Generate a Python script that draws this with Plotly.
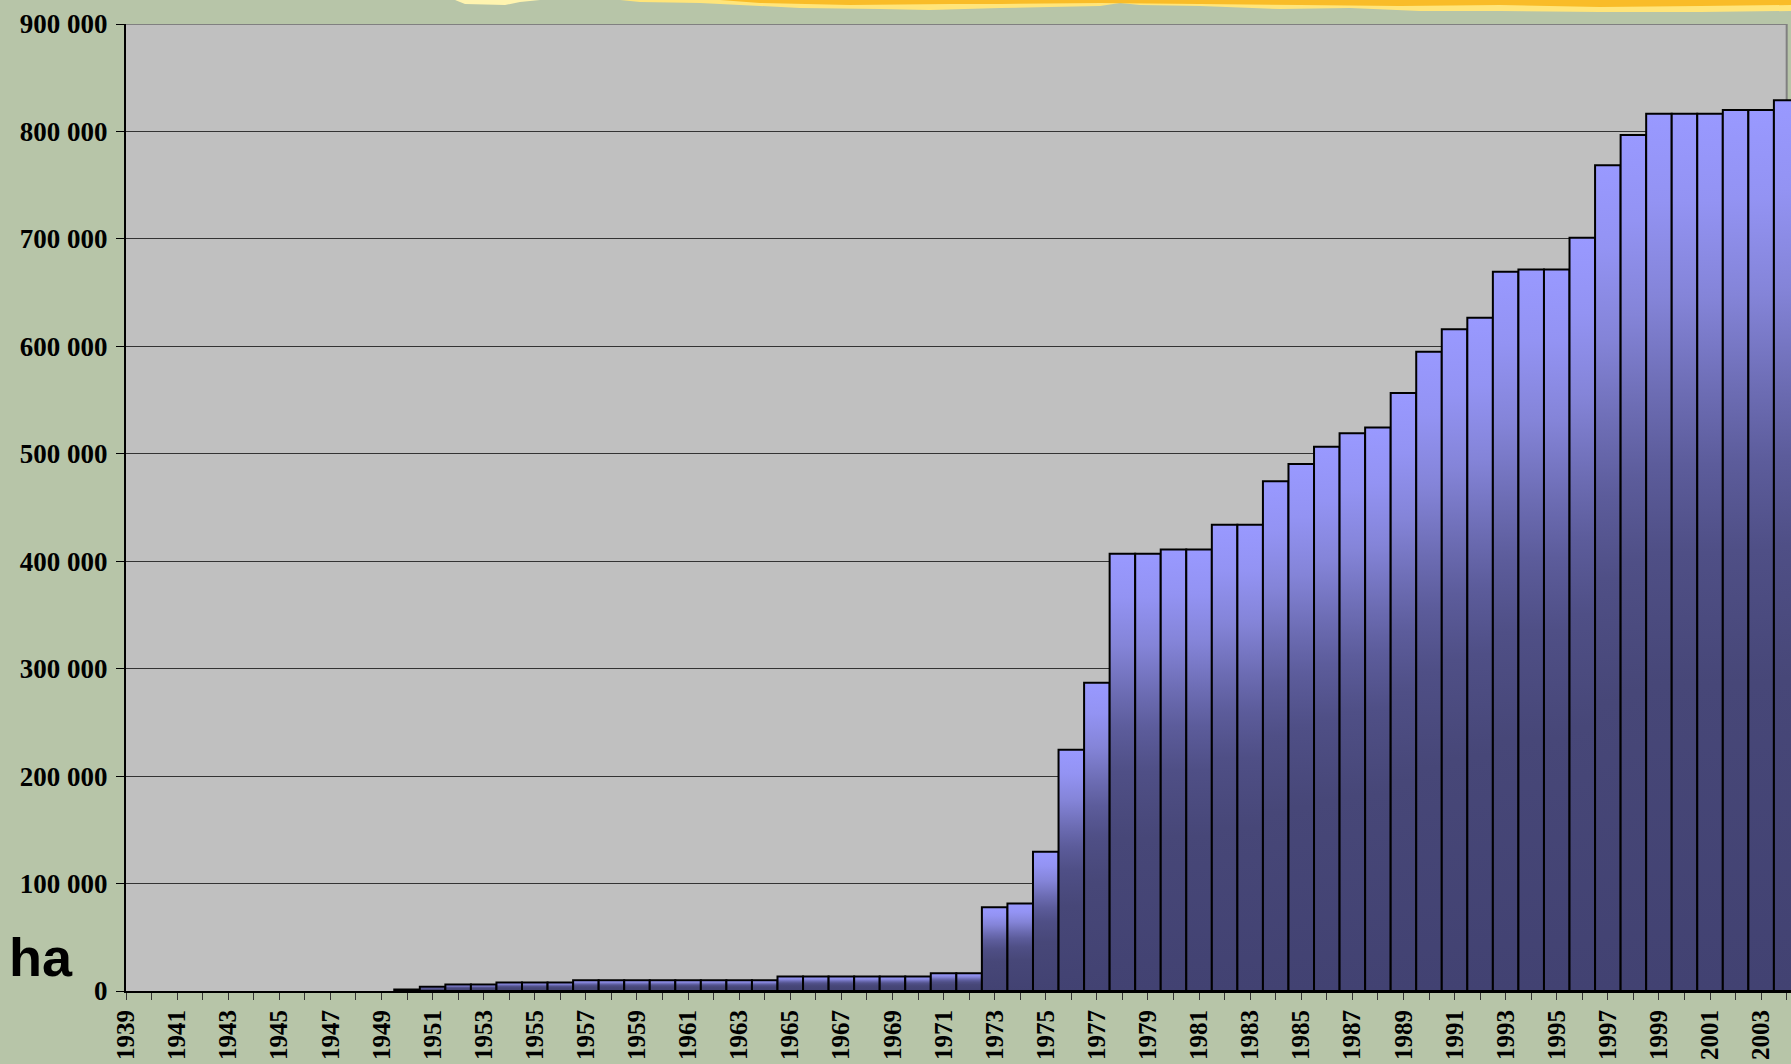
import plotly.graph_objects as go

# ---------------- data ----------------
years = list(range(1939, 2005))
area_ha = [
    0, 0, 0, 0, 0, 0, 0, 0, 0, 0, 0,          # 1939-1949
    1500, 4000, 6000, 6000, 8000, 8000, 8000,  # 1950-1956
    10000, 10000, 10000, 10000, 10000, 10000, 10000, 10000,  # 1957-1964
    13500, 13500, 13500, 13500, 13500, 13500,  # 1965-1970
    16500, 16500,                              # 1971-1972
    78000, 81500, 129500, 224500, 287000,      # 1973-1977
    407000, 407000, 411000, 411000, 434000, 434000,  # 1978-1983
    474500, 490500, 506500, 519000, 524500,    # 1984-1988
    556500, 595000, 616000, 626500, 669500,    # 1989-1993
    671500, 671500, 701000, 768500, 796700,    # 1994-1998
    816500, 816500, 816500, 820000, 820000, 829000,  # 1999-2004
]
y_tick_values = [0, 100000, 200000, 300000, 400000, 500000, 600000, 700000, 800000, 900000]
y_tick_labels = ["0", "100 000", "200 000", "300 000", "400 000", "500 000",
                 "600 000", "700 000", "800 000", "900 000"]
x_tick_years = years[::2]
x_tick_labels = [str(y) for y in x_tick_years]
unit_label = "ha"

# ---------------- style ----------------
W, H = 1791, 1064
ML, MR, MT, MB = 126, 0, 24, 73
PW, PH = W - ML - MR, H - MT - MB
YEAR_PX = 25.549
x_max = years[0] + PW / YEAR_PX

PAPER_BG = "#B7C5A8"
PLOT_BG = "#C0C0C0"
grad = [[0.0, "#424272"], [0.35, "#474778"], [0.5, "#4F4F86"], [0.6, "#5C5C9B"],
        [0.68, "#6C6CB3"], [0.79, "#8484D8"], [0.9, "#9393F3"], [1.0, "#9999FF"]]

fig = go.Figure()

for yr, v in zip(years, area_ha):
    if v <= 0:
        continue
    fig.add_trace(go.Scatter(
        x=[yr - 0.5, yr - 0.5, yr + 0.5, yr + 0.5, yr - 0.5],
        y=[0, v, v, 0, 0],
        mode="lines",
        fill="toself",
        fillgradient=dict(type="vertical", colorscale=grad),
        line=dict(color="black", width=2),
        showlegend=False,
        hoverinfo="skip",
    ))


def px_to_paper(pts):
    return [((px - ML) / PW, (H - MB - py) / PH) for px, py in pts]


def path_of(pts):
    p = px_to_paper(pts)
    s = "M {:.5f},{:.5f} ".format(*p[0])
    s += " ".join("L {:.5f},{:.5f}".format(a, b) for a, b in p[1:])
    return s + " Z"


flame_light = [(620, 0), (640, 2), (700, 3), (760, 6),
               (800, 8), (880, 9), (930, 10), (1000, 8), (1050, 7), (1100, 6), (1120, 3),
               (1140, 5), (1200, 6), (1280, 9), (1350, 8), (1420, 11), (1500, 11),
               (1600, 12), (1700, 12), (1791, 11), (1791, 0)]
flame_bits = [(455, 0), (465, 4), (505, 5), (520, 2), (540, 0)]
flame_dark = [(720, 0), (760, 3), (850, 5), (950, 4), (1000, 4), (1100, 3), (1200, 4),
              (1300, 5), (1400, 6), (1500, 5), (1600, 7), (1700, 6), (1791, 5), (1791, 0)]

shapes = [
    dict(type="path", xref="paper", yref="paper", path=path_of(flame_light),
         fillcolor="#FFE57A", line=dict(width=0), layer="above"),
    dict(type="path", xref="paper", yref="paper", path=path_of(flame_bits),
         fillcolor="#FFF4B0", line=dict(width=0), layer="above"),
    dict(type="path", xref="paper", yref="paper", path=path_of(flame_dark),
         fillcolor="#F9BC28", line=dict(width=0), layer="above"),
    # area right of the chart frame
    dict(type="rect", xref="x", yref="paper", x0=years[-1], x1=x_max + 1, y0=0, y1=1,
         fillcolor=PAPER_BG, line=dict(width=0), layer="below"),
    # top frame
    dict(type="line", xref="x", yref="y", x0=years[0], x1=years[-1], y0=900000, y1=900000,
         line=dict(color="#808080", width=2), layer="below"),
    # right frame
    dict(type="line", xref="x", yref="y", x0=years[-1], x1=years[-1], y0=0, y1=900000,
         line=dict(color="#808080", width=2), layer="below"),
]

fig.update_layout(
    width=W, height=H, autosize=False,
    margin=dict(l=ML, r=MR, t=MT, b=MB, pad=0),
    paper_bgcolor=PAPER_BG,
    plot_bgcolor=PLOT_BG,
    showlegend=False,
    shapes=shapes,
    annotations=[dict(
        text=unit_label, xref="paper", yref="paper",
        x=(41 - ML) / PW, y=(H - MB - 957) / PH, xanchor="center", yanchor="middle",
        showarrow=False,
        font=dict(family="Liberation Sans, Arial", size=54, color="black", weight="bold"),
    )],
    xaxis=dict(
        range=[years[0], x_max],
        automargin=False,
        tickmode="array", tickvals=x_tick_years, ticktext=x_tick_labels,
        tickangle=-90,
        ticks="outside", ticklen=7, tickwidth=1, tickcolor="#333333",
        minor=dict(tickmode="linear", tick0=years[0], dtick=1, ticks="outside",
                   ticklen=7, tickwidth=1, tickcolor="#333333", showgrid=False),
        ticklabelstandoff=0,
        tickfont=dict(family="Liberation Serif, Times New Roman", size=25,
                      color="black", weight="bold"),
        showgrid=False, zeroline=False,
        showline=True, linecolor="black", linewidth=2,
        fixedrange=True,
    ),
    yaxis=dict(
        range=[0, 900000],
        automargin=False,
        tickmode="array", tickvals=y_tick_values, ticktext=y_tick_labels,
        ticks="outside", ticklen=8, tickwidth=1, tickcolor="black",
        ticklabelstandoff=3,
        tickfont=dict(family="Liberation Serif, Times New Roman", size=27,
                      color="black", weight="bold"),
        showgrid=True, gridcolor="#333333", gridwidth=1,
        zeroline=False,
        showline=True, linecolor="black", linewidth=2,
        fixedrange=True,
    ),
)

fig.write_html("out.html", config={"displayModeBar": False},
               post_script="document.body.style.margin='0';document.body.style.overflow='hidden';")
